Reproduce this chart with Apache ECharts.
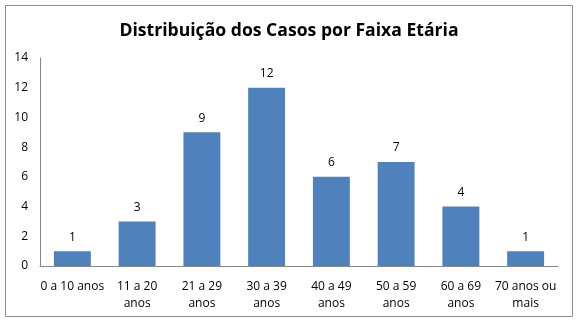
<!DOCTYPE html>
<html><head><meta charset="utf-8">
<script src="https://cdn.jsdelivr.net/npm/echarts@6/dist/echarts.min.js"></script>
<style>html,body{margin:0;padding:0;background:#fff}#c{width:578px;height:324px}</style>
</head><body><div id="c"></div>
<script>
const title = 'Distribuição dos Casos por Faixa Etária';
const categories = ['0 a 10 anos','11 a 20\nanos','21 a 29\nanos','30 a 39\nanos','40 a 49\nanos','50 a 59\nanos','60 a 69\nanos','70 anos ou\nmais'];
const values = [1,3,9,12,6,7,4,1];
const yTicks = {min:0, max:14, interval:2};
const font = '"Open Sans", "Liberation Sans", sans-serif';
const chart = echarts.init(document.getElementById('c'), null, {renderer:'canvas'});
chart.setOption({
  animation:false,
  backgroundColor:'#fff',
  graphic:[{type:'rect', shape:{x:5.5,y:5.5,width:567,height:311}, style:{fill:'none', stroke:'#8c8c8c', lineWidth:1}, silent:true}],
  title:{text:title, left:'center', top:17, textStyle:{fontFamily:font, fontSize:17.6, fontWeight:'bold', color:'#000'}},
  grid:{left:40, right:20, top:58, bottom:58, containLabel:false},
  xAxis:{type:'category', data:categories,
    axisLine:{lineStyle:{color:'#868686'}}, axisTick:{show:false},
    axisLabel:{fontFamily:font, fontSize:12, color:'#000', interval:0, margin:12, lineHeight:17}},
  yAxis:{type:'value', min:yTicks.min, max:yTicks.max, interval:yTicks.interval,
    axisLine:{show:true, lineStyle:{color:'#868686'}}, axisTick:{show:false}, splitLine:{show:false},
    axisLabel:{fontFamily:font, fontSize:12, color:'#000', margin:12}},
  series:[{type:'bar', data:values, barWidth:'57%', itemStyle:{color:'#4f81bd'},
    label:{show:true, position:'top', distance:8, fontFamily:font, fontSize:12, color:'#000'}}]
});
</script></body></html>
